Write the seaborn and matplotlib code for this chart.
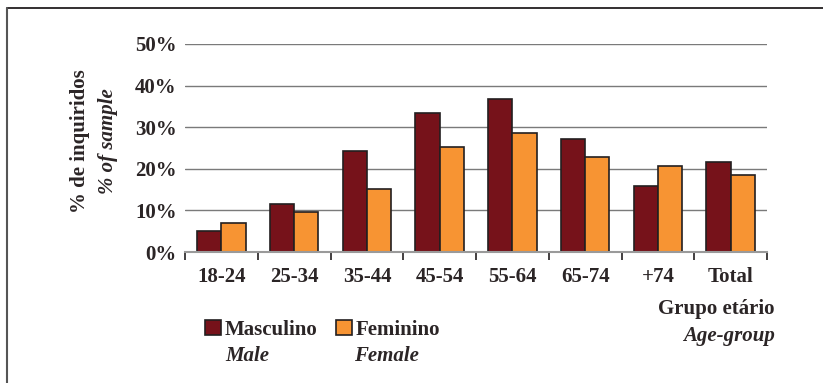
import matplotlib
matplotlib.use("Agg")
import matplotlib.pyplot as plt
import seaborn as sns
import pandas as pd
from matplotlib.ticker import FixedLocator, PercentFormatter

categories = ["18-24", "25-34", "35-44", "45-54", "55-64", "65-74", "+74", "Total"]
male = [5.1, 11.5, 24.2, 33.3, 36.7, 27.2, 15.9, 21.6]
female = [6.9, 9.7, 15.2, 25.2, 28.5, 22.8, 20.7, 18.4]
series_names = ["Masculino", "Feminino"]
series_names_en = ["Male", "Female"]
yticks = [0, 10, 20, 30, 40, 50]

df = pd.DataFrame({
    "grupo": categories * 2,
    "valor": male + female,
    "sexo": [series_names[0]] * len(categories) + [series_names[1]] * len(categories),
})

sns.set_theme(style="white")
plt.rcParams["font.family"] = ["Liberation Serif", "DejaVu Serif"]
txt = "#2b2526"
FS = 15

fig = plt.figure(figsize=(8.23, 3.83), dpi=100)
ax = fig.add_axes([185 / 823, 1 - 252 / 383, (767 - 185) / 823, (252 - 44) / 383])

sns.barplot(data=df, x="grupo", y="valor", hue="sexo", order=categories,
            hue_order=series_names, palette=["#76121a", "#f79433"], saturation=1,
            width=0.67, edgecolor="#231f20", linewidth=1.2, ax=ax, legend=True, zorder=3)

ax.set_ylim(0, 50)
ax.set_xlim(-0.5, len(categories) - 0.5)
ax.yaxis.set_major_locator(FixedLocator(yticks))
ax.yaxis.set_major_formatter(PercentFormatter(decimals=0))
ax.grid(axis="y", color="#7a7a7a", linewidth=1.0, zorder=0)
ax.grid(axis="x", visible=False)
for s in ["top", "right", "left"]:
    ax.spines[s].set_visible(False)
ax.spines["bottom"].set_color("#9a9a9a")
ax.spines["bottom"].set_linewidth(1.5)
ax.spines["bottom"].set_zorder(4)

ax.set_xticks(range(len(categories)))
ax.set_xticklabels(categories)
ax.set_xticks([i - 0.5 for i in range(len(categories) + 1)], minor=True)
ax.tick_params(axis="x", which="major", length=0, pad=11, labelsize=FS, labelcolor=txt)
ax.tick_params(axis="x", which="minor", bottom=True, length=6, width=1.2, color="#231f20")
ax.tick_params(axis="y", length=0, pad=6, labelsize=FS, labelcolor=txt)
for lab in ax.get_xticklabels() + ax.get_yticklabels():
    lab.set_fontweight("bold")
ax.set_xlabel("")
ax.set_ylabel("")

# Y-axis titles
fig.text(80 / 823, 1 - 141 / 383, "% de inquiridos", rotation=90, ha="center", va="center",
         fontsize=FS, fontweight="bold", color=txt)
fig.text(108 / 823, 1 - 141 / 383, "% of sample", rotation=90, ha="center", va="center",
         fontsize=FS, fontweight="bold", fontstyle="italic", color=txt)

# X-axis title
fig.text(775 / 823, 1 - 309 / 383, "Grupo etário", ha="right", va="center",
         fontsize=FS, fontweight="bold", color=txt)
fig.text(775 / 823, 1 - 336 / 383, "Age-group", ha="right", va="center",
         fontsize=FS, fontweight="bold", fontstyle="italic", color=txt)

# Legend
handles, labels = ax.get_legend_handles_labels()
leg = ax.legend(handles, labels, loc="center left", bbox_to_anchor=(205 / 823, 1 - 330 / 383),
                bbox_transform=fig.transFigure, ncol=2, frameon=False, handlelength=0.75,
                handleheight=0.75, handletextpad=0.2, columnspacing=0.9, borderaxespad=0,
                borderpad=0, prop={"family": "Liberation Serif", "weight": "bold", "size": FS})
for t in leg.get_texts():
    t.set_color(txt)
fig.text(225 / 823, 1 - 356 / 383, series_names_en[0], ha="left", va="center",
         fontsize=FS, fontweight="bold", fontstyle="italic", color=txt)
fig.text(354 / 823, 1 - 356 / 383, series_names_en[1], ha="left", va="center",
         fontsize=FS, fontweight="bold", fontstyle="italic", color=txt)

# Frame lines (top and left)
fig.add_artist(plt.Line2D([7 / 823, 1], [1 - 8 / 383, 1 - 8 / 383], transform=fig.transFigure,
                          color="#231f20", linewidth=1.3))
fig.add_artist(plt.Line2D([7 / 823, 7 / 823], [0, 1 - 8 / 383], transform=fig.transFigure,
                          color="#555555", linewidth=1.5))

fig.savefig("out.png", dpi=100)
